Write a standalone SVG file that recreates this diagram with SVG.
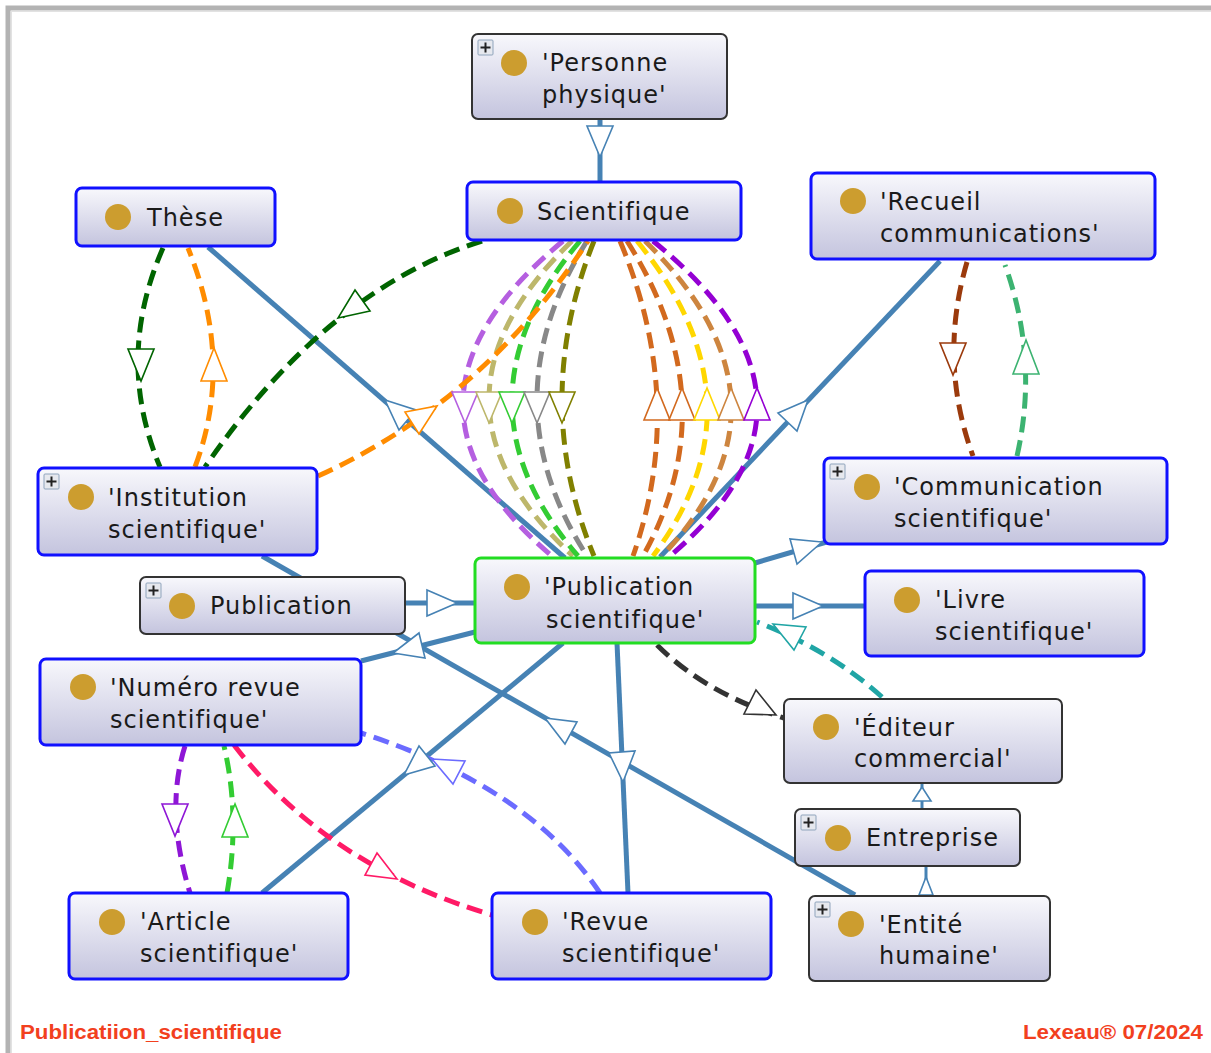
<svg xmlns="http://www.w3.org/2000/svg" width="1211" height="1053" viewBox="0 0 1211 1053">
<defs>
<linearGradient id="g" x1="0" y1="0" x2="0" y2="1">
<stop offset="0" stop-color="#f8f8fc"/>
<stop offset="1" stop-color="#c4c4de"/>
</linearGradient>
<style>
.box{fill:url(#g)}
.b{stroke:#1010ff;stroke-width:3}
.k{stroke:#333;stroke-width:2}
.gr{stroke:#22dd22;stroke-width:3}
.dot{fill:#cc9d2f}
.t{font-family:"DejaVu Sans","Liberation Sans",sans-serif;font-size:24px;letter-spacing:1px;fill:#1a1a1a}
.pl{fill:#e6e8ee;stroke:#8fa4bc;stroke-width:1}
.pp{stroke:#222;stroke-width:2;fill:none}
.sl{stroke:#4682b4;stroke-width:5;fill:none}
.slt{stroke:#4682b4;stroke-width:3;fill:none}
.ah{fill:#fff;stroke-width:1.6}
.ab{fill:#fff;stroke:#4682b4;stroke-width:1.6}
.d{fill:none;stroke-width:5;stroke-dasharray:16 8}
.ft{font-family:"Liberation Sans",Arial,sans-serif;font-weight:bold;font-size:20px;fill:#f2401e}
</style>
</defs>
<rect x="0" y="0" width="1211" height="1053" fill="#fff"/>
<rect x="8" y="8" width="1210" height="1060" fill="none" stroke="#b3b3b3" stroke-width="5"/>
<rect x="11.5" y="11.5" width="1210" height="1060" fill="none" stroke="#e2e2e2" stroke-width="1"/>

<g id="connectors">
<line class="sl" x1="600" y1="119" x2="600" y2="182"/>
<line class="sl" x1="208" y1="247" x2="565" y2="558"/>
<line class="sl" x1="262" y1="556" x2="855" y2="895"/>
<line class="sl" x1="405" y1="603" x2="475" y2="603"/>
<line class="sl" x1="755" y1="563" x2="830" y2="541"/>
<line class="sl" x1="755" y1="606" x2="865" y2="606"/>
<line class="sl" x1="940" y1="261" x2="660" y2="557"/>
<line class="sl" x1="361" y1="661" x2="475" y2="632"/>
<line class="sl" x1="262" y1="893" x2="563" y2="643"/>
<line class="sl" x1="628" y1="893" x2="617" y2="643"/>
<line class="slt" x1="922" y1="783" x2="922" y2="809"/>
<line class="slt" x1="926" y1="866" x2="926" y2="896"/>

<path class="d" stroke="#b55fe0" d="M563,241 Q368.5,401.5 552,556"/>
<path class="d" stroke="#bdb76b" d="M572,241 Q405.5,401.5 573,556"/>
<path class="d" stroke="#33cc33" d="M580,241 Q445,401.5 578,556"/>
<path class="d" stroke="#888888" d="M587,241 Q487,401.5 587,556"/>
<path class="d" stroke="#808000" d="M594,241 Q530,401.5 594,556"/>
<path class="d" stroke="#d2691e" d="M620,241 Q687.5,401.5 633,556"/>
<path class="d" stroke="#d2691e" d="M627,241 Q729,401.5 643,556"/>
<path class="d" stroke="#ffd700" d="M637,241 Q769,401.5 653,556"/>
<path class="d" stroke="#cd853f" d="M645,241 Q808.5,401.5 662,556"/>
<path class="d" stroke="#9400d3" d="M653,241 Q852.5,401.5 670,556"/>
<path class="d" stroke="#ff8c00" d="M318,476 Q483,401.5 588,241"/>
<path class="d" stroke="#006400" d="M482,241 Q326.5,290 205,467"/>
<path class="d" stroke="#006400" d="M163,248 Q114.5,358.5 160,467"/>
<path class="d" stroke="#ff8c00" d="M195,467 Q234.5,362.5 188,248"/>
<path class="d" stroke="#9b3a0c" d="M967,262 Q938,361 973,456"/>
<path class="d" stroke="#3cb371" d="M1017,456 Q1039,359.5 1005,265"/>
<path class="d" stroke="#8e16d6" d="M185,746 Q164.5,810.5 190,893"/>
<path class="d" stroke="#33cc33" d="M227,893 Q240.5,816.5 224,746"/>
<path class="d" stroke="#ff1a66" d="M234,745 Q327,866 492,915"/>
<path class="d" stroke="#6b6bff" d="M600,893 Q529.5,787 361,733"/>
<path class="d" stroke="#333333" d="M657,645 Q705,693 784,718"/>
<path class="d" stroke="#20a5a5" d="M882,697 Q830,650 757,622"/>

<polygon class="ab" points="587,126 613,126 600,157"/>
<polygon class="ab" points="385,400 416,410 399,430"/>
<polygon class="ab" points="545,718 577,722 565,744"/>
<polygon class="ab" points="427,590 427,616 457,603"/>
<polygon class="ab" points="822,542 797,564 790,539"/>
<polygon class="ab" points="793,593 793,619 823,606"/>
<polygon class="ab" points="808,400 797,431 778,413"/>
<polygon class="ab" points="393,653 425,658 419,633"/>
<polygon class="ab" points="404,775 435,766 419,746"/>
<polygon class="ab" points="623,782 635,751 609,753"/>
<polygon class="ab" points="922,787 913,801 931,801"/>
<polygon class="ab" points="926,877 919,895 933,895"/>

<polygon class="ah" stroke="#b55fe0" points="452,392 478,392 465,423"/>
<polygon class="ah" stroke="#bdb76b" points="476,392 502,392 489,423"/>
<polygon class="ah" stroke="#33cc33" points="499,392 525,392 512,423"/>
<polygon class="ah" stroke="#888888" points="524,392 550,392 537,423"/>
<polygon class="ah" stroke="#808000" points="549,392 575,392 562,423"/>
<polygon class="ah" stroke="#d2691e" points="657,388 644,420 670,420"/>
<polygon class="ah" stroke="#d2691e" points="682,388 669,420 695,420"/>
<polygon class="ah" stroke="#ffd700" points="707,388 694,420 720,420"/>
<polygon class="ah" stroke="#cd853f" points="731,388 718,420 744,420"/>
<polygon class="ah" stroke="#9400d3" points="757,388 744,420 770,420"/>
<polygon class="ah" stroke="#ff8c00" points="437,406 419,434 405,412"/>
<polygon class="ah" stroke="#006400" points="338,318 370,311 355,290"/>
<polygon class="ah" stroke="#006400" points="128,349 154,349 141,381"/>
<polygon class="ah" stroke="#ff8c00" points="214,348 201,381 227,381"/>
<polygon class="ah" stroke="#9b3a0c" points="940,343 966,343 953,375"/>
<polygon class="ah" stroke="#3cb371" points="1026,340 1013,374 1039,374"/>
<polygon class="ah" stroke="#8e16d6" points="162,804 188,804 175,836"/>
<polygon class="ah" stroke="#33cc33" points="235,804 222,837 248,837"/>
<polygon class="ah" stroke="#ff1a66" points="397,879 365,875 377,853"/>
<polygon class="ah" stroke="#6b6bff" points="432,759 465,761 453,784"/>
<polygon class="ah" stroke="#333333" points="776,715 744,714 756,690"/>
<polygon class="ah" stroke="#20a5a5" points="773,624 806,627 794,650"/>
</g>

<g id="personne-physique">
<rect class="box k" x="472" y="34" width="255" height="85" rx="6"/>
<rect class="pl" x="478" y="40" width="15" height="15" rx="1"/>
<path class="pp" d="M480.5,47.5 H490.5 M485.5,42.5 V52.5"/>
<circle class="dot" cx="514" cy="63" r="13"/>
<text class="t" x="542" y="71">'Personne</text>
<text class="t" x="542" y="103">physique'</text>
</g>

<g id="scientifique">
<rect class="box b" x="467" y="182" width="274" height="58" rx="6"/>
<circle class="dot" cx="510" cy="211" r="13"/>
<text class="t" x="537" y="219.5">Scientifique</text>
</g>

<g id="these">
<rect class="box b" x="76" y="188" width="199" height="58" rx="6"/>
<circle class="dot" cx="118" cy="217" r="13"/>
<text class="t" x="147" y="225.5">Thèse</text>
</g>

<g id="recueil-communications">
<rect class="box b" x="811" y="173" width="344" height="86" rx="6"/>
<circle class="dot" cx="853" cy="201" r="13"/>
<text class="t" x="880" y="210">'Recueil</text>
<text class="t" x="880" y="242">communications'</text>
</g>

<g id="institution-scientifique">
<rect class="box b" x="38" y="468" width="279" height="87" rx="6"/>
<rect class="pl" x="44" y="474" width="15" height="15" rx="1"/>
<path class="pp" d="M46.5,481.5 H56.5 M51.5,476.5 V486.5"/>
<circle class="dot" cx="81" cy="497" r="13"/>
<text class="t" x="108" y="506">'Institution</text>
<text class="t" x="108" y="538">scientifique'</text>
</g>

<g id="communication-scientifique">
<rect class="box b" x="824" y="458" width="343" height="86" rx="6"/>
<rect class="pl" x="830" y="464" width="15" height="15" rx="1"/>
<path class="pp" d="M832.5,471.5 H842.5 M837.5,466.5 V476.5"/>
<circle class="dot" cx="867" cy="487" r="13"/>
<text class="t" x="894" y="495">'Communication</text>
<text class="t" x="894" y="527">scientifique'</text>
</g>

<g id="publication">
<rect class="box k" x="140" y="577" width="265" height="57" rx="6"/>
<rect class="pl" x="146" y="583" width="15" height="15" rx="1"/>
<path class="pp" d="M148.5,590.5 H158.5 M153.5,585.5 V595.5"/>
<circle class="dot" cx="182" cy="606" r="13"/>
<text class="t" x="210" y="614">Publication</text>
</g>

<g id="publication-scientifique">
<rect class="box gr" x="475" y="558" width="280" height="85" rx="6"/>
<circle class="dot" cx="517" cy="587" r="13"/>
<text class="t" x="544" y="595">'Publication</text>
<text class="t" x="546" y="628">scientifique'</text>
</g>

<g id="livre-scientifique">
<rect class="box b" x="865" y="571" width="279" height="85" rx="6"/>
<circle class="dot" cx="907" cy="600" r="13"/>
<text class="t" x="935" y="608">'Livre</text>
<text class="t" x="935" y="640">scientifique'</text>
</g>

<g id="numero-revue-scientifique">
<rect class="box b" x="40" y="659" width="321" height="86" rx="6"/>
<circle class="dot" cx="83" cy="687" r="13"/>
<text class="t" x="110" y="696">'Numéro revue</text>
<text class="t" x="110" y="728">scientifique'</text>
</g>

<g id="editeur-commercial">
<rect class="box k" x="784" y="699" width="278" height="84" rx="6"/>
<circle class="dot" cx="826" cy="727" r="13"/>
<text class="t" x="854" y="736">'Éditeur</text>
<text class="t" x="854" y="767">commercial'</text>
</g>

<g id="entreprise">
<rect class="box k" x="795" y="809" width="225" height="57" rx="6"/>
<rect class="pl" x="801" y="815" width="15" height="15" rx="1"/>
<path class="pp" d="M803.5,822.5 H813.5 M808.5,817.5 V827.5"/>
<circle class="dot" cx="838" cy="838" r="13"/>
<text class="t" x="866" y="846">Entreprise</text>
</g>

<g id="article-scientifique">
<rect class="box b" x="69" y="893" width="279" height="86" rx="6"/>
<circle class="dot" cx="112" cy="922" r="13"/>
<text class="t" x="140" y="930">'Article</text>
<text class="t" x="140" y="962">scientifique'</text>
</g>

<g id="revue-scientifique">
<rect class="box b" x="492" y="893" width="279" height="86" rx="6"/>
<circle class="dot" cx="535" cy="922" r="13"/>
<text class="t" x="562" y="930">'Revue</text>
<text class="t" x="562" y="962">scientifique'</text>
</g>

<g id="entite-humaine">
<rect class="box k" x="809" y="896" width="241" height="85" rx="6"/>
<rect class="pl" x="815" y="902" width="15" height="15" rx="1"/>
<path class="pp" d="M817.5,909.5 H827.5 M822.5,904.5 V914.5"/>
<circle class="dot" cx="851" cy="924" r="13"/>
<text class="t" x="879" y="933">'Entité</text>
<text class="t" x="879" y="964">humaine'</text>
</g>

<g id="footer">
<text class="ft" x="20" y="1039" textLength="262" lengthAdjust="spacingAndGlyphs">Publicatiion_scientifique</text>
<text class="ft" x="1203" y="1039" text-anchor="end" textLength="180" lengthAdjust="spacingAndGlyphs">Lexeau® 07/2024</text>
</g>
</svg>
